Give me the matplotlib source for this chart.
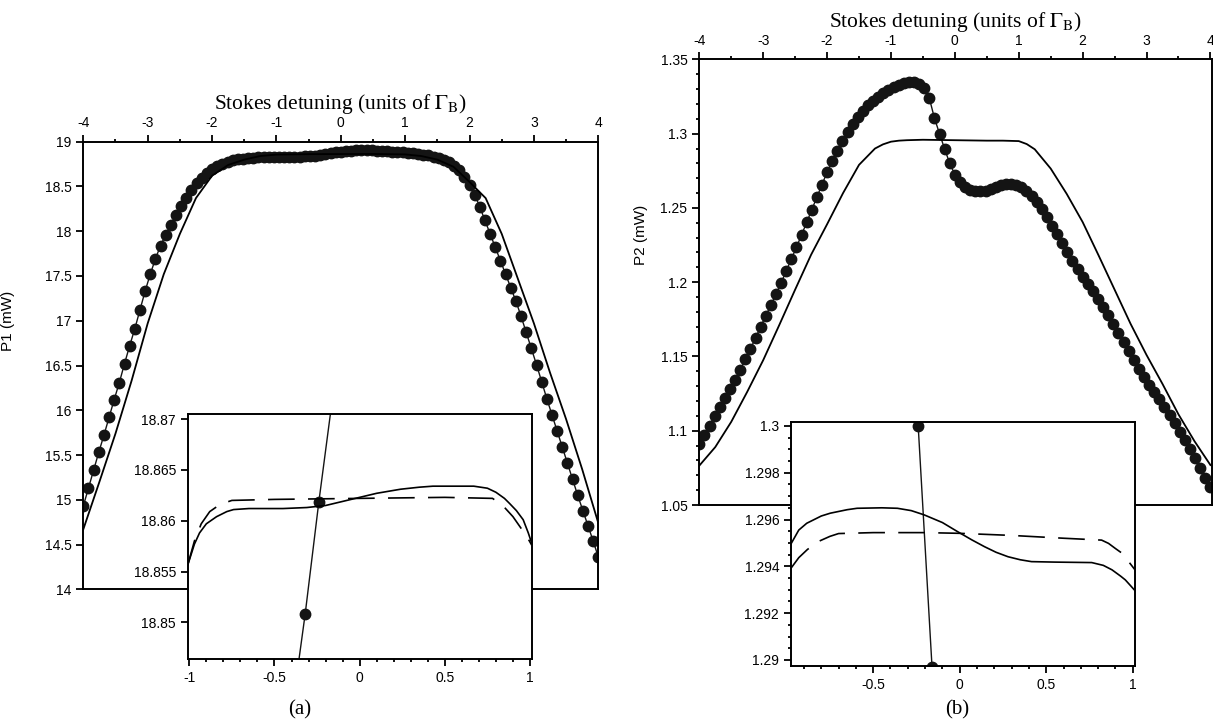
import numpy as np
import matplotlib
matplotlib.use('Agg')
import matplotlib.pyplot as plt
from matplotlib.ticker import MultipleLocator, FormatStrFormatter

plt.rcParams['font.family'] = ['Liberation Sans', 'DejaVu Sans']
plt.rcParams['axes.unicode_minus'] = False
plt.rcParams['mathtext.fontset'] = 'stix'

# detuning grid of the measured points (units of Gamma_B)
det = np.linspace(-4, 4, 101)

# (a) measured P1 (mW)
p1_meas = [14.93, 15.13, 15.33, 15.53, 15.72, 15.92, 16.12, 16.31, 16.52, 16.72,
           16.91, 17.12, 17.33, 17.52, 17.69, 17.84, 17.96, 18.07, 18.18, 18.28,
           18.37, 18.46, 18.54, 18.60, 18.65, 18.69, 18.725, 18.75, 18.775, 18.795,
           18.805, 18.812, 18.817, 18.821, 18.824, 18.826, 18.828, 18.829, 18.830, 18.831,
           18.832, 18.833, 18.834, 18.835, 18.837, 18.841, 18.8508, 18.8618, 18.872, 18.881,
           18.889, 18.896, 18.901, 18.904, 18.905, 18.904, 18.902, 18.900, 18.897, 18.894,
           18.890, 18.886, 18.882, 18.877, 18.871, 18.864, 18.856, 18.846, 18.833, 18.816,
           18.795, 18.768, 18.73, 18.68, 18.61, 18.52, 18.41, 18.27, 18.12, 17.97,
           17.82, 17.67, 17.52, 17.37, 17.22, 17.05, 16.87, 16.69, 16.51, 16.32,
           16.13, 15.95, 15.77, 15.59, 15.41, 15.23, 15.05, 14.88, 14.71, 14.54, 14.36]

# (a) model P1
p1_mod_x = [-4.0, -3.75, -3.5, -3.25, -3.0, -2.75, -2.5, -2.25, -2.0, -1.75, -1.5, -1.25,
            -1.0, -0.5, 0.0, 0.5, 1.0, 1.25, 1.5, 1.75, 2.0, 2.25, 2.5, 2.75, 3.0, 3.25,
            3.5, 3.75, 4.0]
p1_mod = [14.67, 15.20, 15.74, 16.33, 16.97, 17.52, 17.97, 18.37, 18.62, 18.74, 18.80, 18.84,
          18.856, 18.861, 18.862, 18.863, 18.858, 18.84, 18.80, 18.72, 18.55, 18.37, 17.97,
          17.47, 16.97, 16.42, 15.90, 15.34, 14.74]

# (a) inset: zoom on the plateau
ina_solid_x = [-1.01, -0.97, -0.94, -0.9, -0.84, -0.78, -0.74, -0.65, -0.55, -0.45, -0.31,
               -0.2, -0.1, 0.0, 0.1, 0.24, 0.35, 0.43, 0.55, 0.67, 0.75, 0.8, 0.85, 0.88,
               0.92, 0.96, 0.99, 1.01]
ina_solid = [18.8556, 18.8577, 18.8588, 18.8597, 18.8604, 18.8609, 18.8611, 18.8612, 18.8612,
             18.8612, 18.8613, 18.8615, 18.8619, 18.8623, 18.8627, 18.8631, 18.8633, 18.8634,
             18.8634, 18.8634, 18.8632, 18.8628, 18.8622, 18.8617, 18.8610, 18.8601, 18.8588,
             18.8578]
ina_dash_x = [-1.01, -0.97, -0.93, -0.88, -0.82, -0.75, -0.5, 0.0, 0.5, 0.78, 0.84, 0.9,
              0.95, 0.98, 1.01]
ina_dash = [18.8556, 18.8580, 18.8597, 18.8609, 18.8616, 18.8620, 18.8621, 18.8622, 18.8623,
            18.8622, 18.8615, 18.8604, 18.8592, 18.8585, 18.8576]

# (b) measured P2 (mW)
p2_meas = [1.0912, 1.0970, 1.1035, 1.1100, 1.1160, 1.1220, 1.1280, 1.1340, 1.1410, 1.1480,
           1.1550, 1.1625, 1.1700, 1.1775, 1.1845, 1.1920, 1.1995, 1.2075, 1.2155, 1.2235,
           1.2318, 1.2402, 1.2487, 1.2572, 1.2657, 1.2740, 1.2815, 1.2885, 1.2950, 1.3010,
           1.3065, 1.3112, 1.3153, 1.3190, 1.3222, 1.3250, 1.3274, 1.3294, 1.3311, 1.3326,
           1.3338, 1.3345, 1.3346, 1.3336, 1.3308, 1.3240, 1.3105, 1.3000, 1.2897, 1.2800,
           1.2725, 1.2672, 1.2640, 1.2622, 1.2613, 1.2611, 1.2617, 1.2628, 1.2641, 1.2652,
           1.2660, 1.2662, 1.2655, 1.2638, 1.2612, 1.2578, 1.2538, 1.2490, 1.2437, 1.2381,
           1.2322, 1.2262, 1.2205, 1.2145, 1.2088, 1.2035, 1.1985, 1.1938, 1.1888, 1.1835,
           1.1778, 1.1718, 1.1657, 1.1598, 1.1538, 1.1478, 1.1418, 1.1360, 1.1310, 1.1262,
           1.1212, 1.1158, 1.1105, 1.1050, 1.0993, 1.0937, 1.0877, 1.0815, 1.0750, 1.0685, 1.0620]

# (b) model P2
p2_mod_x = [-4.0, -3.75, -3.5, -3.25, -3.0, -2.75, -2.5, -2.25, -2.0, -1.75, -1.5, -1.25,
            -1.125, -1.0, -0.875, -0.75, -0.5, 0.0, 0.5, 0.75, 1.0, 1.125, 1.25, 1.5, 1.75,
            2.0, 2.25, 2.5, 2.75, 3.0, 3.25, 3.5, 3.75, 4.0]
p2_mod = [1.0765, 1.0890, 1.1060, 1.1262, 1.1475, 1.1710, 1.1950, 1.2185, 1.2390, 1.2600,
          1.2790, 1.2900, 1.2928, 1.2946, 1.2953, 1.2956, 1.2959, 1.2956, 1.2953, 1.2953,
          1.2950, 1.2930, 1.2895, 1.2765, 1.2595, 1.2405, 1.2180, 1.1950, 1.1720, 1.1510,
          1.1315, 1.1110, 1.0930, 1.0769]

# (b) inset
inb_solid_x = [-0.975, -0.93, -0.884, -0.8, -0.748, -0.65, -0.593, -0.45, -0.36, -0.28,
               -0.206, -0.1, -0.012, 0.07, 0.143, 0.21, 0.279, 0.35, 0.415, 0.55, 0.763,
               0.83, 0.88, 0.93, 0.957, 0.99, 1.013]
inb_solid = [1.29496, 1.29555, 1.29584, 1.29615, 1.29627, 1.29642, 1.29648, 1.29650, 1.29648,
             1.29638, 1.29620, 1.29587, 1.29548, 1.29513, 1.29484, 1.29460, 1.29441, 1.29428,
             1.29420, 1.29418, 1.29416, 1.29404, 1.29385, 1.29358, 1.29342, 1.29315, 1.29296]
inb_dash_x = [-0.975, -0.93, -0.88, -0.82, -0.75, -0.7, -0.5, -0.2, 0.0, 0.3, 0.6, 0.82,
              0.86, 0.9, 0.938, 0.97, 1.013]
inb_dash = [1.29392, 1.29437, 1.29472, 1.29505, 1.29528, 1.29540, 1.29544, 1.29544, 1.29541,
            1.29532, 1.29520, 1.29512, 1.29498, 1.29476, 1.29456, 1.29426, 1.29385]

W, H = 1213, 724
fig = plt.figure(figsize=(W / 100, H / 100), dpi=100)


def box(l, r, t, b):
    return [l / W, 1 - b / H, (r - l) / W, (b - t) / H]


def setup(ax, top):
    for s in ax.spines.values():
        s.set_linewidth(1.4)
    if top:
        ax.xaxis.tick_top()
        ax.xaxis.set_label_position('top')
        ax.tick_params(which='both', direction='out', top=True, bottom=False,
                       left=True, right=False, labelsize=10, width=1.3)
    else:
        ax.tick_params(which='both', direction='out', top=False, bottom=True,
                       left=True, right=False, labelsize=10, width=1.3)
    ax.tick_params(which='major', length=5)
    ax.tick_params(which='minor', length=2.5)
    ax.xaxis.set_major_formatter(FormatStrFormatter('%g'))
    ax.yaxis.set_major_formatter(FormatStrFormatter('%g'))


title = r'Stokes detuning (units of $\Gamma_{\mathrm{B}}$)'
serif = ['Liberation Serif', 'DejaVu Serif']
mk = dict(marker='o', ms=7.5, color='#141414', lw=1.0, mec='#141414')

# ---- panel (a)
ax1 = fig.add_axes(box(83.3, 598.3, 141.7, 589.3))
ax1.plot(det, p1_meas, **mk)
ax1.plot(p1_mod_x, p1_mod, color='k', lw=1.3)
ax1.set_xlim(-4, 4)
ax1.set_ylim(14, 19)
setup(ax1, True)
ax1.xaxis.set_major_locator(MultipleLocator(1))
ax1.xaxis.set_minor_locator(MultipleLocator(0.5))
ax1.yaxis.set_major_locator(MultipleLocator(0.5))
ax1.set_xlabel(title, fontsize=15.5, family=serif, labelpad=5)
ax1.set_ylabel('P1 (mW)', fontsize=11)
ax1.yaxis.set_label_coords(-0.133, 0.60)

ins1 = fig.add_axes(box(187.7, 532.3, 414, 659))
ins1.plot(det, p1_meas, **mk)
ins1.plot(ina_solid_x, ina_solid, color='k', lw=1.2)
ins1.plot(ina_dash_x, ina_dash, color='k', lw=1.2, ls=(0, (16, 8)))
ins1.set_xlim(-1.0094, 1.0135)
ins1.set_ylim(18.8464, 18.8705)
setup(ins1, False)
ins1.xaxis.set_major_locator(MultipleLocator(0.5))
ins1.xaxis.set_minor_locator(MultipleLocator(0.1))
ins1.yaxis.set_major_locator(MultipleLocator(0.005))

fig.text(300 / W, 1 - 710 / H, '(a)', ha='center', va='center', fontsize=15, family=serif)

# ---- panel (b)
ax2 = fig.add_axes(box(699.3, 1211.7, 59.4, 505))
ax2.plot(det, p2_meas, **mk)
ax2.plot(p2_mod_x, p2_mod, color='k', lw=1.3)
ax2.set_xlim(-4, 4.02)
ax2.set_ylim(1.05, 1.35)
setup(ax2, True)
ax2.xaxis.set_major_locator(MultipleLocator(1))
ax2.xaxis.set_minor_locator(MultipleLocator(0.5))
ax2.yaxis.set_major_locator(MultipleLocator(0.05))
ax2.yaxis.set_minor_locator(MultipleLocator(0.01))
ax2.set_xlabel(title, fontsize=15.5, family=serif, labelpad=5)
ax2.set_ylabel('P2 (mW)', fontsize=11)
ax2.yaxis.set_label_coords(-0.100, 0.606)

ins2 = fig.add_axes(box(791, 1135, 421.7, 666))
ins2.plot(det, p2_meas, **mk)
ins2.plot(inb_solid_x, inb_solid, color='k', lw=1.2)
ins2.plot(inb_dash_x, inb_dash, color='k', lw=1.2, ls=(0, (16, 8)))
ins2.set_xlim(-0.975, 1.013)
ins2.set_ylim(1.28974, 1.30018)
setup(ins2, False)
ins2.xaxis.set_major_locator(MultipleLocator(0.5))
ins2.xaxis.set_minor_locator(MultipleLocator(0.1))
ins2.yaxis.set_major_locator(MultipleLocator(0.002))
ins2.yaxis.set_minor_locator(MultipleLocator(0.0005))

fig.text(957 / W, 1 - 710 / H, '(b)', ha='center', va='center', fontsize=15, family=serif)

fig.savefig('out.png', dpi=100, facecolor='white')
